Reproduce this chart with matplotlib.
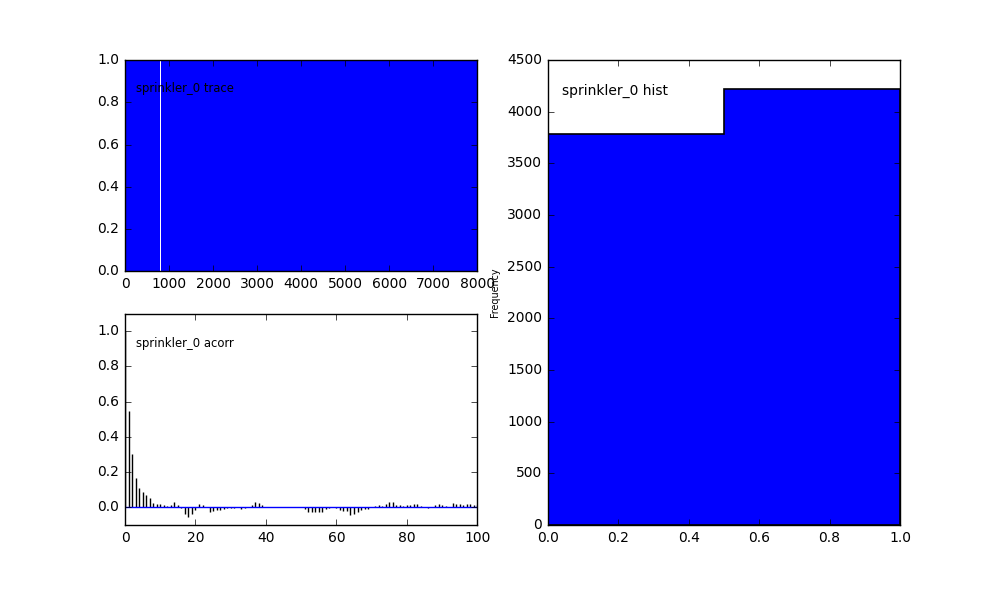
import numpy as np
import matplotlib
matplotlib.use("Agg")
import matplotlib.pyplot as plt

plt.style.use("classic")
plt.rcParams["font.size"] = 10

name = "sprinkler_0"

# ---- data ----
n_samples = 8000
# trace: the chain switches between 0 and 1 almost every step; visible
# constant stretches (start index, length, held value)
trace_holds = [(380, 30, 1), (515, 32, 1), (775, 66, 1)]

# autocorrelation at lags 0..100
acorr_lags = list(range(0, 101))
acorr_vals = [1.0,
    0.55, 0.303, 0.165, 0.108, 0.085, 0.070, 0.051, 0.026, 0.019, 0.019,
    0.013, 0.008, 0.015, 0.030, 0.011, -0.003, -0.038, -0.053, -0.038, -0.015,
    0.019, 0.011, 0.000, -0.025, -0.023, -0.015, -0.015, -0.009, -0.006, -0.004,
    -0.002, 0.002, -0.008, -0.006, 0.000, 0.011, 0.030, 0.026, 0.011, 0.000,
    0.002, 0.000, 0.003, 0.000, 0.000, 0.001, 0.000, 0.003, 0.003, 0.000,
    -0.011, -0.025, -0.025, -0.025, -0.025, -0.025, -0.008, -0.004, 0.004, -0.004,
    -0.015, -0.019, -0.023, -0.044, -0.038, -0.027, -0.015, -0.011, -0.008, 0.000,
    0.008, 0.015, 0.008, 0.019, 0.030, 0.030, 0.015, 0.011, 0.008, 0.011,
    0.011, 0.019, 0.019, 0.008, 0.004, -0.004, 0.004, 0.011, 0.019, 0.015,
    0.008, 0.004, 0.026, 0.019, 0.019, 0.013, 0.019, 0.019, 0.015, 0.015]

hist_edges = [0.0, 0.5, 1.0]
hist_counts = [3780, 4220]

# ---- build trace from description ----
trace = (np.arange(n_samples) % 2).astype(float)
for start, length, val in trace_holds:
    trace[start:start + length] = val

fig = plt.figure(figsize=(10, 6), dpi=100)
fig.subplots_adjust(left=0.125, right=0.9, top=0.9, bottom=0.125,
                    wspace=0.2, hspace=0.2)

# trace
ax1 = fig.add_subplot(2, 2, 1)
ax1.plot(np.arange(n_samples), trace, color="b", linewidth=1)
ax1.set_xlim(0, n_samples)
ax1.set_ylim(0, 1)
ax1.text(0.031, 0.865, "%s trace" % name, transform=ax1.transAxes,
         ha="left", va="center", fontsize="small")

# acorr
ax2 = fig.add_subplot(2, 2, 3)
ax2.vlines(acorr_lags, 0, acorr_vals, colors="k", linewidth=1)
ax2.axhline(0, color="b", linewidth=1)
ax2.set_xlim(0, 100)
ax2.set_ylim(-0.1, 1.1)
ax2.set_yticks([0.0, 0.2, 0.4, 0.6, 0.8, 1.0])
ax2.text(0.031, 0.86, "%s acorr" % name, transform=ax2.transAxes,
         ha="left", va="center", fontsize="small")

# hist
ax3 = fig.add_subplot(1, 2, 2)
centers = [(hist_edges[i] + hist_edges[i + 1]) / 2 for i in range(len(hist_counts))]
ax3.hist(centers, bins=hist_edges, weights=hist_counts, histtype="stepfilled",
         facecolor="b", edgecolor="k", linewidth=1.2)
ax3.set_xlim(0, 1)
ax3.set_ylim(0, 4500)
ax3.set_ylabel("Frequency", fontsize="x-small")
ax3.text(0.04, 0.933, "%s hist" % name, transform=ax3.transAxes,
         ha="left", va="center", fontsize="medium")

fig.savefig("out.png", dpi=100)
